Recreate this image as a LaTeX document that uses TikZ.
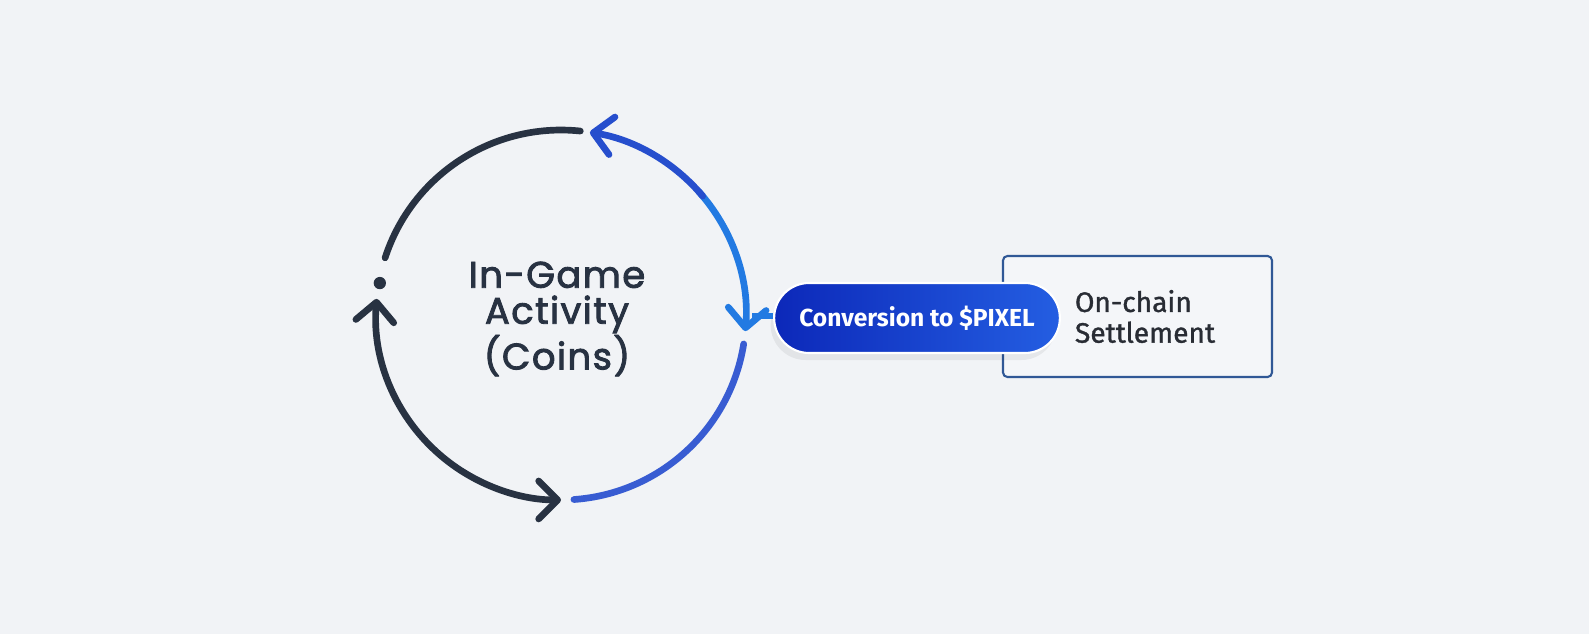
\documentclass[tikz,border=0pt]{standalone}
\usepackage{fontspec}
\setmainfont{Fira Sans}
\newfontfamily\geofont[FakeBold=2.4,LetterSpace=4]{Poppins}
\newfontfamily\plexfont[FakeBold=1.2]{Fira Sans}
\usetikzlibrary{arrows.meta,positioning,shapes.misc,calc,shadows}
\definecolor{pagebg}{RGB}{241,243,246}
\definecolor{inkdark}{RGB}{40,50,66}
\definecolor{topblue}{RGB}{38,78,205}
\definecolor{cycleblue}{RGB}{34,122,226}
\definecolor{lowblue}{RGB}{56,92,210}
\definecolor{pillleft}{RGB}{12,40,185}
\definecolor{pillright}{RGB}{36,94,226}
\definecolor{boxedge}{RGB}{48,88,150}
\definecolor{boxfill}{RGB}{244,246,249}
\definecolor{textdark}{RGB}{40,44,52}
\tikzset{
  cycdark/.style={draw=inkdark, line width=3.8pt, line cap=round},
  cycblue/.style={draw=cycleblue, line width=3.8pt, line cap=round},
  cyctop/.style={draw=topblue, line width=3.8pt, line cap=round},
  cyclow/.style={draw=lowblue, line width=3.8pt, line cap=round},
  barb/.tip={Straight Barb[length=3.8mm,width=7.6mm,round]},
  hubtext/.style={align=center, text=inkdark, font=\geofont\fontsize{21}{20.5}\selectfont},
  pill/.style={rounded rectangle, minimum height=1.4cm, minimum width=5.95cm,
               left color=pillleft, right color=pillright, draw=white, line width=1.2pt,
               text=white, font=\bfseries\fontsize{14}{16}\selectfont,
               drop shadow={shadow xshift=-2pt, shadow yshift=-4pt, opacity=0.06, fill=black}},
  settlebox/.style={rectangle, rounded corners=2.5pt, draw=boxedge, line width=1.2pt, fill=boxfill,
                    minimum width=5.38cm, minimum height=2.42cm, align=left, text width=2.5cm,
                    inner xsep=1.44cm, text=textdark, font=\plexfont\fontsize{16}{17.5}\selectfont},
}
\begin{document}
\begin{tikzpicture}[x=0.02cm,y=-0.02cm]
\fill[pagebg] (0,0) rectangle (1589,634);
\useasboundingbox (0,0) rectangle (1589,634);
% the coin loop
\coordinate (hub) at (561,315);
\node[hubtext] (act) at (557,319) {In-Game\\Activity\\(Coins)};
\draw[cycdark] ([shift={(84:3.7cm)}]hub) arc[start angle=84, end angle=162, radius=3.7cm];
\fill[inkdark] ([shift={(170:3.68cm)}]hub) circle[radius=3.5pt];
\draw[cycblue, barb-] ([shift={(-5:3.7cm)}]hub) arc[start angle=-5, end angle=42, radius=3.7cm];
\draw[cyctop, -barb] ([shift={(40:3.7cm)}]hub) arc[start angle=40, end angle=81, radius=3.7cm];
\draw[cyclow] ([shift={(-86:3.7cm)}]hub) arc[start angle=-86, end angle=-9, radius=3.7cm];
\draw[cycdark, barb-barb] ([shift={(175:3.7cm)}]hub) arc[start angle=175, end angle=270, radius=3.7cm];
% conversion and settlement
\node[settlebox] (settle) at (1137.5,316.5) {On-chain\\Settlement};
\node[pill] (conv) at (917,318) {Conversion to \$PIXEL};
\coordinate (join) at (752,316);
\draw[cycblue, line cap=butt, line width=3pt] (join) -- (join -| conv.west);
\end{tikzpicture}
\end{document}
